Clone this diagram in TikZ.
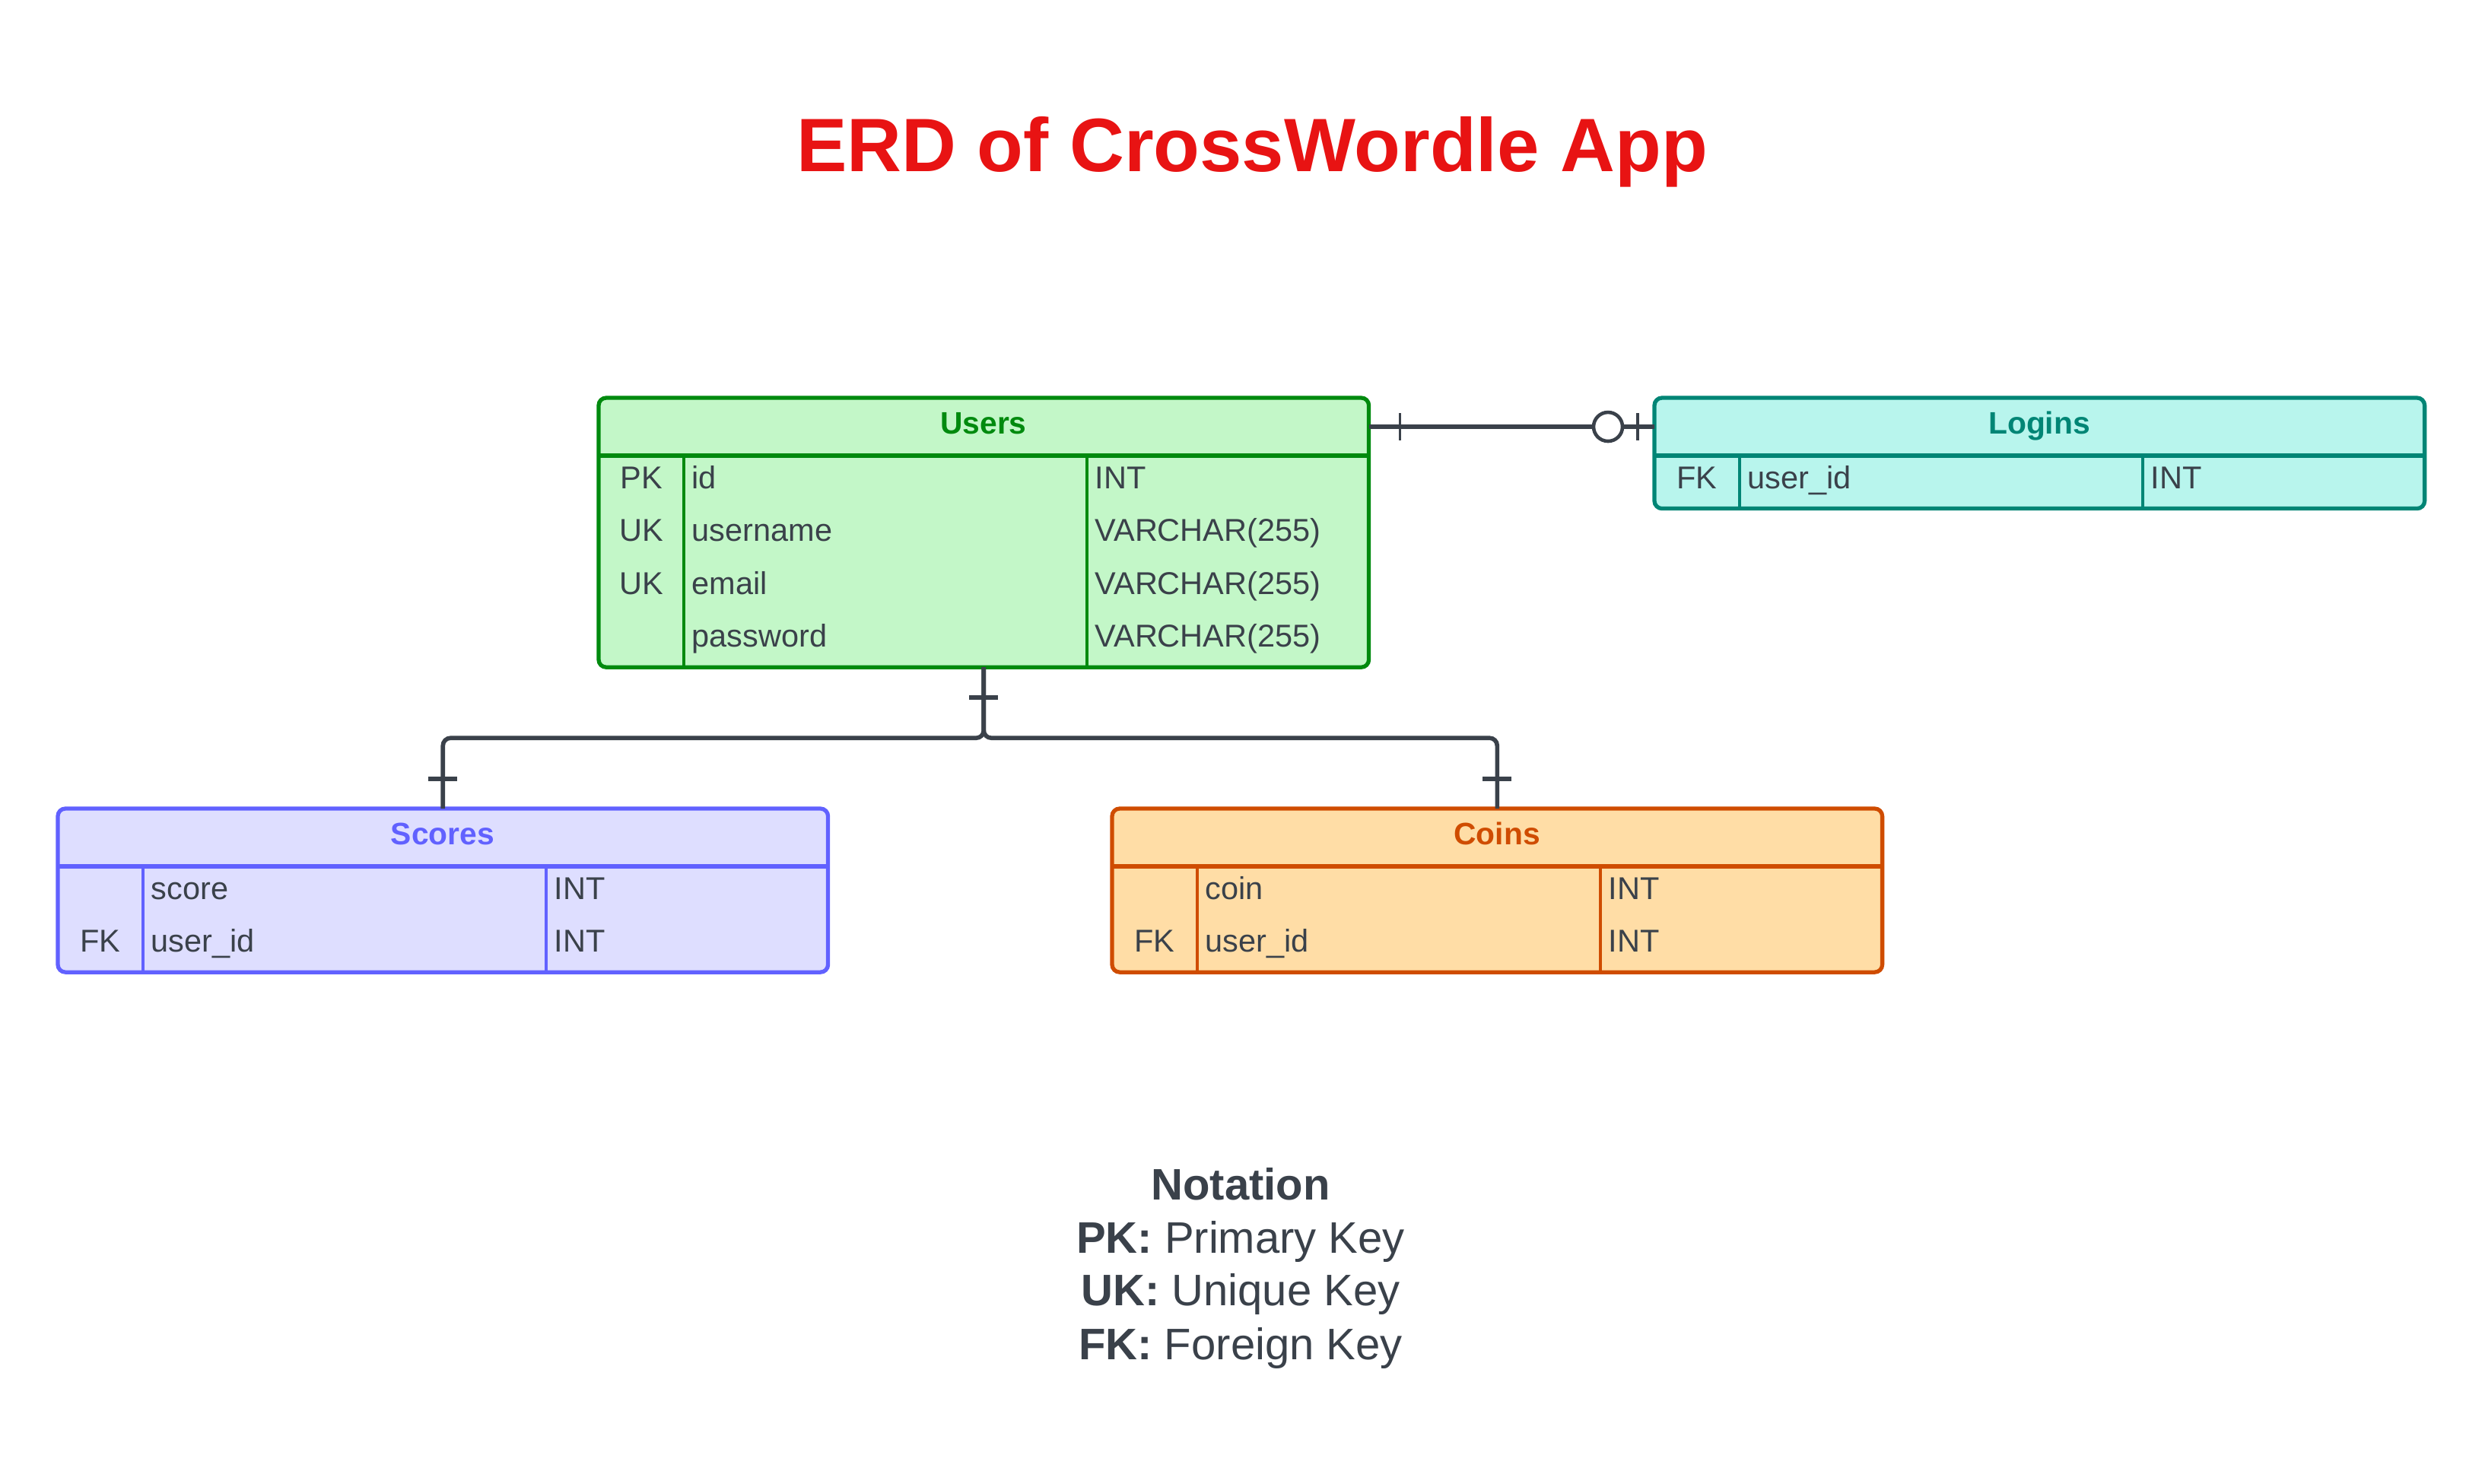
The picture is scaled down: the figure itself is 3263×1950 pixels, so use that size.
\documentclass[tikz,border=0pt]{standalone}
\usepackage{fontspec}
\setmainfont{Liberation Sans}
\usetikzlibrary{calc}
\definecolor{ink}{HTML}{3A414A}
\definecolor{titlered}{HTML}{E81313}
\definecolor{usersfill}{HTML}{C3F7C8}
\definecolor{usersline}{HTML}{008A0E}
\definecolor{loginsfill}{HTML}{B8F5ED}
\definecolor{loginsline}{HTML}{008575}
\definecolor{scoresfill}{HTML}{DEDEFF}
\definecolor{scoresline}{HTML}{6161FF}
\definecolor{coinsfill}{HTML}{FFDDA6}
\definecolor{coinsline}{HTML}{CF4C00}
\tikzset{
  tablebox/.style={rounded corners=0.1cm, line width=1.5pt, minimum width=10.12cm,
    anchor=north west, inner sep=0pt, outer sep=0pt},
  headbox/.style={minimum width=10.12cm, minimum height=0.76cm, anchor=north west,
    inner sep=0pt, outer sep=0pt},
  cell/.style={font=\fontsize{11.8}{13}\selectfont, text=ink, inner sep=0pt, anchor=base},
  hdr/.style={font=\bfseries\fontsize{11.6}{13}\selectfont, inner sep=0pt, anchor=base},
  conn/.style={draw=ink, line width=1.6pt, rounded corners=0.1cm},
  sidebar/.style={draw=ink, line width=1.0pt},
  bar/.style={draw=ink, line width=1.7pt},
  sepline/.style={line width=1.6pt},
  colline/.style={line width=1.1pt},
}
% #1 name, #2 left, #3 top, #4 rows, #5 fill, #6 line colour, #7 title
\newcommand\erdtable[7]{%
  \pgfmathsetmacro\erdH{0.76+0.695*#4}%
  \node[tablebox, fill=#5, draw=#6, minimum height=\erdH cm] (#1) at (#2,#3) {};
  \node[headbox] (#1-head) at (#2,#3) {};
  \node[hdr, text=#6] (#1-title) at (#2+506,#3+47) {#7};
  \draw[#6, sepline] (#2,#3+76) -- (#2+1012,#3+76);
  \draw[#6, colline] (#2+112,#3+76) -- (#2+112,#3+76+69.5*#4);
  \draw[#6, colline] (#2+642,#3+76) -- (#2+642,#3+76+69.5*#4);
}
% #1 name, #2 left, #3 top, #4 row index, #5 key, #6 field, #7 type
\newcommand\erdrow[7]{%
  \node[cell] (#1-k#4) at (#2+56,#3+76+69.5*#4-69.5+43) {#5};
  \node[cell, anchor=base west] (#1-f#4) at (#2+122,#3+76+69.5*#4-69.5+43) {#6};
  \node[cell, anchor=base west] (#1-t#4) at (#2+652,#3+76+69.5*#4-69.5+43) {#7};
}
\begin{document}
\begin{tikzpicture}[x=0.01cm, y=-0.01cm]
\fill[white] (0,0) rectangle (3263,1950);
\useasboundingbox (0,0) rectangle (3263,1950);

% title
\node[font=\bfseries\fontsize{28.3}{32}\selectfont, text=titlered, anchor=base, inner sep=0pt]
  (title) at (1646,225) {ERD of CrossWordle App};

% tables
\erdtable{users}{787}{523}{4}{usersfill}{usersline}{Users}
\erdrow{users}{787}{523}{1}{PK}{id}{INT}
\erdrow{users}{787}{523}{2}{UK}{username}{VARCHAR(255)}
\erdrow{users}{787}{523}{3}{UK}{email}{VARCHAR(255)}
\erdrow{users}{787}{523}{4}{}{password}{VARCHAR(255)}

\erdtable{logins}{2175}{523}{1}{loginsfill}{loginsline}{Logins}
\erdrow{logins}{2175}{523}{1}{FK}{user\_id}{INT}

\erdtable{scores}{76}{1063}{2}{scoresfill}{scoresline}{Scores}
\erdrow{scores}{76}{1063}{1}{}{score}{INT}
\erdrow{scores}{76}{1063}{2}{FK}{user\_id}{INT}

\erdtable{coins}{1462}{1063}{2}{coinsfill}{coinsline}{Coins}
\erdrow{coins}{1462}{1063}{1}{}{coin}{INT}
\erdrow{coins}{1462}{1063}{2}{FK}{user\_id}{INT}

% Users -- Logins (one to zero-or-one)
\draw[conn] (users-head.east) -- (logins-head.west);
\draw[sidebar] ($(users-head.east)+(41,-18)$) -- ++(0,36);
\draw[sidebar] ($(logins-head.west)+(-22,-18)$) -- ++(0,36);
\draw[draw=ink, line width=1.3pt, fill=white] ($(logins-head.west)+(-61,0)$) circle[radius=0.19cm];

% Users -- Scores, Users -- Coins (one to one)
\draw[conn] (users.south) -- ++(0,93) -| (scores.north);
\draw[conn] (users.south) -- ++(0,93) -| (coins.north);
\draw[bar] ($(users.south)+(-19,40)$) -- ++(38,0);
\draw[bar] ($(scores.north)+(-19,-39)$) -- ++(38,0);
\draw[bar] ($(coins.north)+(-19,-39)$) -- ++(38,0);

% notation
\node[font=\bfseries\fontsize{16.5}{19}\selectfont, text=ink, anchor=base, inner sep=0pt]
  (nota) at (1631,1577) {Notation};
\node[font=\fontsize{16.5}{19}\selectfont, text=ink, anchor=base, inner sep=0pt]
  (notpk) at (1631,1647) {\textbf{PK:} Primary Key};
\node[font=\fontsize{16.5}{19}\selectfont, text=ink, anchor=base, inner sep=0pt]
  (notuk) at (1631,1716) {\textbf{UK:} Unique Key};
\node[font=\fontsize{16.5}{19}\selectfont, text=ink, anchor=base, inner sep=0pt]
  (notfk) at (1631,1787) {\textbf{FK:} Foreign Key};
\end{tikzpicture}
\end{document}
